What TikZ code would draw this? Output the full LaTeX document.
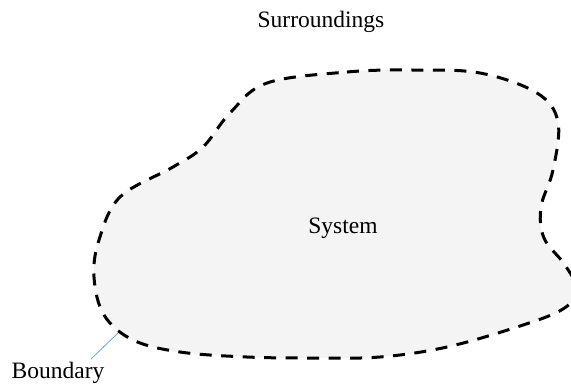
\documentclass[tikz,border=0pt]{standalone}
\usepackage{fontspec}
\setmainfont{Liberation Serif}
\definecolor{sysfill}{HTML}{F4F4F4}
\definecolor{leader}{HTML}{6FA0D8}
\begin{document}
\begin{tikzpicture}[x=1pt,y=-1pt,
  lbl/.style={font=\fontsize{23.5}{28}\selectfont, inner sep=0pt, anchor=base},
  bound/.style={draw=black, fill=sysfill, line width=3pt, dash pattern=on 12pt off 9.5pt},
  leaderline/.style={draw=leader, line width=0.8pt}]
\useasboundingbox (0,0) rectangle (571,384);
\clip (0,0) rectangle (571,384);
\path[bound] plot[smooth cycle, tension=0.6] coordinates {
 (267,83) (347,72) (413,70) (480,73) (537,93) (558,122) (553,170) (541,207)
 (544,238) (565,265) (577,290) (563,309) (520,326) (447,347) (380,357)
 (313,358) (247,357) (180,352) (133,340) (104,315) (94,277) (99,240)
 (120,197) (173,167) (203,147) (230,113)};
\node[lbl] (surr) at (321,27) {Surroundings};
\node[lbl] (sys) at (343,233) {System};
\node[lbl] (bnd) at (58,378) {Boundary};
\coordinate (bpt) at (118,333);
\coordinate (lstart) at (91,359);
\draw[leaderline] (lstart) -- (bpt);
\end{tikzpicture}
\end{document}
